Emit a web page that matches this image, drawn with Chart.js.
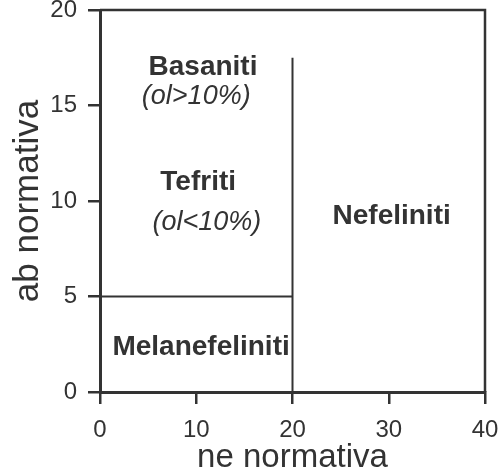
<!DOCTYPE html>
<html>
<head>
<meta charset="utf-8">
<script src="https://cdn.jsdelivr.net/npm/chart.js@4/dist/chart.umd.min.js"></script>
<style>
  html, body { margin: 0; padding: 0; background: #fff; }
  #wrap { width: 498px; height: 473px; }
</style>
</head>
<body>
<div id="wrap"><canvas id="diagram" width="498" height="473"></canvas></div>
<script>
// field boundaries (ne, ab)
const verticalLine = [{ x: 20, y: 0 }, { x: 20, y: 17.5 }];
const horizontalLine = [{ x: 0, y: 5 }, { x: 20, y: 5 }];

// field names, placed at (ne, ab)
const fieldNames = ['Basaniti', '(ol>10%)', 'Tefriti', '(ol<10%)', 'Nefeliniti', 'Melanefeliniti'];
const fieldX = [10.7, 10.0, 10.2, 11.1, 30.3, 10.5];
const fieldY = [17.0, 15.45, 11.0, 8.9, 9.2, 2.35];
const fieldItalic = [false, true, false, true, false, false];

const xTicks = [0, 10, 20, 30, 40];
const yTicks = [0, 5, 10, 15, 20];

const ink = '#333';
const family = '"Liberation Sans", Arial, sans-serif';

const fieldLabels = {
    id: 'fieldLabels',
    afterDatasetsDraw(chart) {
        const { ctx, chartArea, scales } = chart;
        ctx.save();
        // frame on top and right
        ctx.strokeStyle = ink;
        ctx.lineWidth = 2.5;
        ctx.beginPath();
        ctx.moveTo(chartArea.left, chartArea.top);
        ctx.lineTo(chartArea.right, chartArea.top);
        ctx.lineTo(chartArea.right, chartArea.bottom);
        ctx.stroke();

        ctx.fillStyle = ink;
        ctx.textAlign = 'center';
        ctx.textBaseline = 'middle';
        fieldNames.forEach((name, i) => {
            ctx.font = fieldItalic[i] ? 'italic 27px ' + family : 'bold 28px ' + family;
            ctx.fillText(name, scales.x.getPixelForValue(fieldX[i]), scales.y.getPixelForValue(fieldY[i]));
        });
        ctx.restore();
    }
};

const lineStyle = {
    showLine: true,
    borderColor: ink,
    borderWidth: 2,
    pointRadius: 0,
    fill: false
};

new Chart(document.getElementById('diagram').getContext('2d'), {
    type: 'scatter',
    data: {
        datasets: [
            Object.assign({ data: verticalLine }, lineStyle),
            Object.assign({ data: horizontalLine }, lineStyle)
        ]
    },
    options: {
        responsive: false,
        animation: false,
        layout: { padding: 0 },
        plugins: { legend: { display: false }, tooltip: { enabled: false } },
        scales: {
            x: {
                type: 'linear',
                min: 0,
                max: 40,
                afterFit: (s) => { s.height = 81; s.paddingLeft = 0; s.paddingRight = 13; },
                afterBuildTicks: (s) => { s.ticks = xTicks.map(v => ({ value: v })); },
                ticks: { color: ink, font: { size: 24, family }, padding: 12, maxRotation: 0 },
                grid: { drawOnChartArea: false, drawTicks: true, tickLength: 12, color: ink, lineWidth: 2.5 },
                border: { color: ink, width: 3 },
                title: { display: true, text: 'ne normativa', color: ink, font: { size: 33, family, lineHeight: 0.9 }, padding: { top: 0, bottom: 0 } }
            },
            y: {
                type: 'linear',
                min: 0,
                max: 20,
                afterFit: (s) => { s.width = 100; s.paddingTop = 10; s.paddingBottom = 0; },
                afterBuildTicks: (s) => { s.ticks = yTicks.map(v => ({ value: v })); },
                ticks: { color: ink, font: { size: 24, family }, padding: 11 },
                grid: { drawOnChartArea: false, drawTicks: true, tickLength: 12, color: ink, lineWidth: 2.5 },
                border: { color: ink, width: 3 },
                title: { display: true, text: 'ab normativa', color: ink, font: { size: 35, family }, padding: { top: 7, bottom: 0 } }
            }
        }
    },
    plugins: [fieldLabels]
});
</script>
</body>
</html>
